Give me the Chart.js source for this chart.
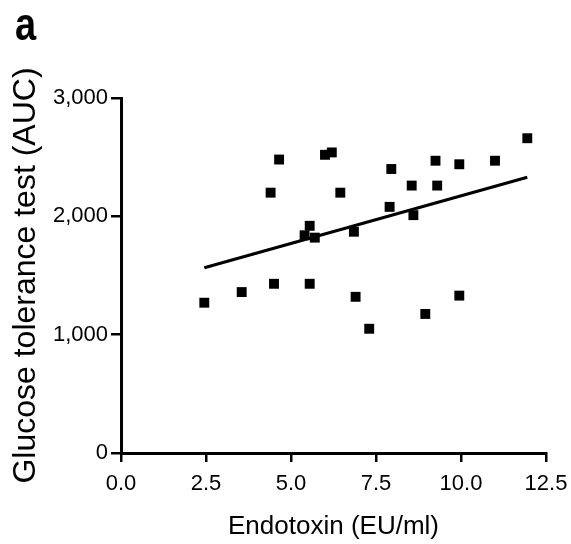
<!DOCTYPE html>
<html>
<head>
<meta charset="utf-8">
<script src="https://cdn.jsdelivr.net/npm/chart.js@4"></script>
<style>
  body { margin: 0; background: #fff; }
  #wrap { position: relative; width: 571px; height: 544px; }
  #panel {
    position: absolute; left: 15px; top: -2px;
    font: bold 38px "Liberation Sans", Arial, sans-serif;
    transform: scaleY(1.24); transform-origin: top left;
  }
</style>
</head>
<body>
<div id="wrap">
  <canvas id="myChart" width="571" height="544"></canvas>
  <div id="panel">a</div>
</div>
<script>
let ctx = document.querySelector("#myChart");

// endotoxin (EU/ml) vs glucose tolerance test (AUC)
const endotoxin = [
  2.45, 3.55, 4.5, 5.55, 6.9, 7.3, 8.95, 9.95,
  4.4, 4.65, 6.0, 6.2, 6.45,
  5.4, 5.55, 5.7, 6.85,
  7.9, 7.95, 8.55, 8.6, 9.25, 9.3, 9.95, 11.0, 11.95,
];
const auc = [
  1270, 1360, 1430, 1430, 1320, 1050, 1175, 1330,
  2200, 2480, 2520, 2540, 2200,
  1840, 1920, 1820, 1870,
  2080, 2400, 2260, 2010, 2470, 2260, 2440, 2470, 2660,
];
// regression line end points
const fitX = [2.45, 11.95];
const fitY = [1565, 2330];

const xTicks = [0, 2.5, 5, 7.5, 10, 12.5];
const yTicks = [0, 1000, 2000, 3000];

const FONT = "'Liberation Sans', Arial, sans-serif";

new Chart(ctx, {
  type: "scatter",
  data: {
    datasets: [
      {
        data: endotoxin.map((x, i) => ({ x: x, y: auc[i] })),
        pointStyle: "rect",
        pointRadius: 7,
        backgroundColor: "#000",
        borderColor: "#000",
        borderWidth: 0,
      },
      {
        type: "line",
        data: fitX.map((x, i) => ({ x: x, y: fitY[i] })),
        borderColor: "#000",
        borderWidth: 3,
        pointRadius: 0,
        showLine: true,
      },
    ],
  },
  options: {
    responsive: false,
    animation: false,
    layout: {
      padding: { left: 0, right: 0, top: 98, bottom: 0 },
    },
    plugins: {
      legend: { display: false },
      tooltip: { enabled: false },
    },
    scales: {
      x: {
        type: "linear",
        min: 0,
        max: 12.5,
        afterBuildTicks: (scale) => {
          scale.ticks = xTicks.map((v) => ({ value: v }));
        },
        afterFit: (scale) => {
          scale.height = 91;
          scale.paddingRight = 25;
        },
        title: {
          display: true,
          text: "Endotoxin (EU/ml)",
          color: "#000",
          font: { family: FONT, size: 26 },
          padding: { top: 0, bottom: 2 },
        },
        ticks: {
          color: "#000",
          font: { family: FONT, size: 22 },
          padding: 9,
          maxRotation: 0,
          callback: (v) => Number(v).toFixed(1),
        },
        grid: {
          drawOnChartArea: false,
          drawTicks: true,
          tickLength: 9,
          color: "#000",
          lineWidth: 2.5,
        },
        border: { display: true, color: "#000", width: 3 },
      },
      y: {
        type: "linear",
        min: 0,
        max: 3000,
        afterBuildTicks: (scale) => {
          scale.ticks = yTicks.map((v) => ({ value: v }));
        },
        afterFit: (scale) => {
          scale.width = 121;
        },
        title: {
          display: true,
          text: "Glucose tolerance test (AUC)",
          color: "#000",
          font: { family: FONT, size: 32 },
          padding: { top: 7, bottom: 0 },
        },
        ticks: {
          color: "#000",
          font: { family: FONT, size: 22 },
          padding: 3,
          callback: (v) => Number(v).toLocaleString("en-US"),
        },
        grid: {
          drawOnChartArea: false,
          drawTicks: true,
          tickLength: 10,
          color: "#000",
          lineWidth: 2.5,
        },
        border: { display: true, color: "#000", width: 3 },
      },
    },
  },
});
</script>
</body>
</html>
